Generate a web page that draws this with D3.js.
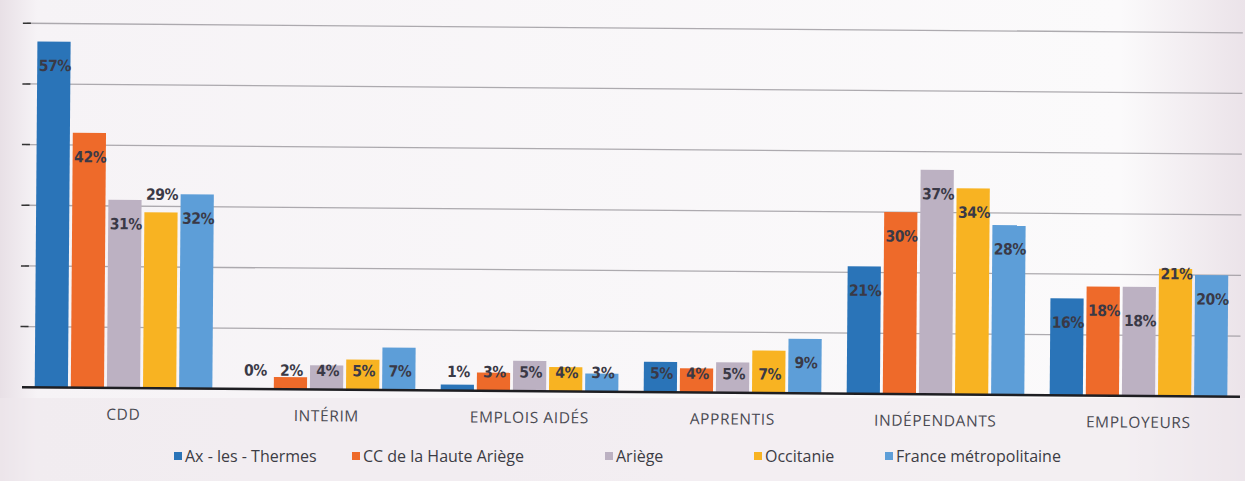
<!DOCTYPE html>
<html>
<head>
<meta charset="utf-8">
<script src="https://cdn.jsdelivr.net/npm/d3@7"></script>
<style>
  html, body { margin: 0; padding: 0; background: #f3eff2; }
  svg { display: block; }
</style>
</head>
<body>
<svg id="chart" width="1245" height="481"></svg>
<script>
// Categories of employment contract
const categories = ["CDD", "INTÉRIM", "EMPLOIS AIDÉS", "APPRENTIS", "INDÉPENDANTS", "EMPLOYEURS"];

// Territories compared
const seriesNames = ["Ax - les - Thermes", "CC de la Haute Ariège", "Ariège", "Occitanie", "France métropolitaine"];

// Shares (%) per territory, in category order
const axLesThermes   = [57, 0, 1, 5, 21, 16];
const ccHauteAriege  = [42, 2, 3, 4, 30, 18];
const ariege         = [31, 4, 5, 5, 37, 18];
const occitanie      = [29, 5, 4, 7, 34, 21];
const franceMetro    = [32, 7, 3, 9, 28, 20];

const yTicks = [0, 10, 20, 30, 40, 50, 60];

const seriesValues = [axLesThermes, ccHauteAriege, ariege, occitanie, franceMetro];
const colors = ["#2a74b8", "#ee6a2a", "#bcb1c2", "#f8b322", "#5d9ed8"];

// A few labels sit apart from the usual inside-end spot
const labelShift = { "CDD|Occitanie": -42, "EMPLOYEURS|Occitanie": -19, "EMPLOYEURS|Ariège": 10 };

const svg = d3.select("#chart");
const W = 1245, H = 481;

// soft paper background with a lighter chart area
const defs = svg.append("defs");
const grad = defs.append("linearGradient").attr("id", "paper").attr("x1", 0).attr("y1", 0).attr("x2", 1).attr("y2", 0);
grad.append("stop").attr("offset", "0%").attr("stop-color", "#e8e0e6");
grad.append("stop").attr("offset", "3%").attr("stop-color", "#f6f3f6");
grad.append("stop").attr("offset", "90%").attr("stop-color", "#fbfafb");
grad.append("stop").attr("offset", "100%").attr("stop-color", "#ebe3e9");
svg.append("rect").attr("width", W).attr("height", H).attr("fill", "url(#paper)");
svg.append("rect").attr("x", 0).attr("y", 398).attr("width", W).attr("height", 83)
  .attr("fill", "#eee7ed").attr("opacity", 0.6);

const g = svg.append("g").attr("transform", "rotate(0.45, 630, 392)");

const baseline = 392;
const x = d3.scaleBand().domain(categories).range([22, 1240]).paddingInner(0.125).paddingOuter(0.0625);
const xs = d3.scaleBand().domain(seriesNames).range([0, x.bandwidth()]).paddingInner(0.08);
const y = d3.scaleLinear().domain([0, 60]).range([baseline, baseline - 364]);

// horizontal gridlines with small left ticks
const grid = g.append("g");
grid.selectAll("line.grid").data(yTicks.filter(t => t > 0)).join("line")
  .attr("class", "grid")
  .attr("x1", 24).attr("x2", 1240)
  .attr("y1", d => y(d)).attr("y2", d => y(d))
  .attr("stroke", "#8d8a90").attr("stroke-width", 1.3).attr("opacity", 0.7);
grid.selectAll("line.tick").data(yTicks.filter(t => t > 0)).join("line")
  .attr("class", "tick")
  .attr("x1", 20).attr("x2", 28)
  .attr("y1", d => y(d)).attr("y2", d => y(d))
  .attr("stroke", "#333").attr("stroke-width", 1.5);

// bars
const rows = [];
categories.forEach((c, i) => seriesNames.forEach((s, j) => rows.push({ cat: c, name: s, v: seriesValues[j][i], j })));

g.append("g").selectAll("rect").data(rows).join("rect")
  .attr("x", d => x(d.cat) + xs(d.name))
  .attr("width", xs.bandwidth())
  .attr("y", d => y(d.v))
  .attr("height", d => baseline - y(d.v))
  .attr("fill", d => colors[d.j]);

// category axis
const xAxis = g.append("g").attr("transform", `translate(0,${baseline})`)
  .call(d3.axisBottom(x).tickSize(0).tickPadding(24));
xAxis.select(".domain").attr("stroke", "#1e1e22").attr("stroke-width", 2.6)
  .attr("d", `M22,0H1240`);
xAxis.selectAll("text")
  .attr("font-family", "'Open Sans', 'Noto Sans', sans-serif")
  .attr("font-size", 15.5).attr("letter-spacing", "0.6px")
  .attr("fill", "#4a4a52").attr("dy", "0.5em");

// value labels
g.append("g").selectAll("text").data(rows).join("text")
  .attr("x", d => x(d.cat) + xs(d.name) + xs.bandwidth() / 2 + 1)
  .attr("y", d => {
    const key = d.cat + "|" + d.name;
    if (key in labelShift) return y(d.v) + 24 + labelShift[key];
    return Math.min(y(d.v) + 24, baseline - 19);
  })
  .attr("dy", "0.35em")
  .attr("text-anchor", "middle")
  .attr("font-family", "'DejaVu Sans Condensed', 'Liberation Sans Narrow', sans-serif")
  .attr("font-weight", "bold")
  .attr("font-size", 15.5)
  .attr("letter-spacing", "-0.4px")
  .attr("fill", "#3a3946")
  .text(d => d.v + "%");

// legend
const legendX = [174, 352, 605, 754, 885];
const legend = svg.append("g").attr("transform", "translate(0,456)");
const items = legend.selectAll("g").data(seriesNames).join("g")
  .attr("transform", (d, i) => `translate(${legendX[i]},0)`);
items.append("rect").attr("x", 0).attr("y", -4).attr("width", 8).attr("height", 8)
  .attr("fill", (d, i) => colors[i]);
items.append("text").attr("x", 11).attr("y", 0).attr("dy", "0.35em")
  .attr("font-family", "'Open Sans', 'Noto Sans', sans-serif")
  .attr("font-size", 16).attr("fill", "#3c3c44")
  .text(d => d);
</script>
</body>
</html>
